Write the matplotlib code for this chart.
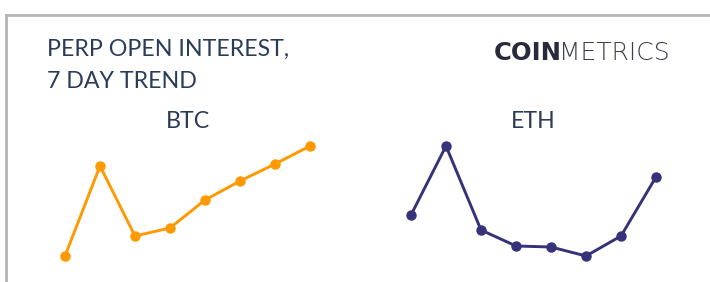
import matplotlib.pyplot as plt
from matplotlib.lines import Line2D

# 7 day perp open interest (arbitrary units)
days = [0, 1, 2, 3, 4, 5, 6, 7]
btc_oi = [9.44, 10.34, 9.64, 9.72, 10.00, 10.19, 10.36, 10.54]
eth_oi = [4.85, 5.54, 4.70, 4.54, 4.53, 4.44, 4.64, 5.23]

W, H = 710, 282
TEXT_COLOR = "#2b3b5a"
BTC_COLOR = "#ff9900"
ETH_COLOR = "#35327a"

fig = plt.figure(figsize=(W / 100, H / 100), dpi=100)
fig.patch.set_facecolor("white")


def px(x, y):
    """pixel coords (top-left origin) -> figure fraction"""
    return x / W, 1 - y / H


# frame lines (top and left only)
x0, y0 = px(6, 14.5)
fig.add_artist(Line2D([x0, 1], [y0, y0], transform=fig.transFigure,
                      color="#b5b5b5", lw=2))
fig.add_artist(Line2D([x0, x0], [y0, 0], transform=fig.transFigure,
                      color="#b5b5b5", lw=2))

# title
fig.text(*px(47, 56), "PERP OPEN INTEREST,", family="Lato", fontsize=16.7,
         color=TEXT_COLOR, va="baseline", ha="left")
fig.text(*px(47, 88), "7 DAY TREND", family="Lato", fontsize=16.7,
         color=TEXT_COLOR, va="baseline", ha="left")

# logo
fig.text(*px(562, 60), "COIN", family="DejaVu Sans", fontweight="bold",
         fontsize=17.5, color="#262a3b", va="baseline", ha="right")
fig.text(*px(559, 60), "METRICS", family="DejaVu Sans", fontweight=200,
         fontsize=18, color="#3a3d4a", va="baseline", ha="left")


def sparkline(left_px, values, color, label):
    left, bottom = px(left_px, 256)
    ax = fig.add_axes([left, bottom, 245 / W, 110 / H])
    ax.plot(days, values, color=color, lw=2.1, marker="o", markersize=6.5,
            clip_on=False)
    ax.set_xlim(days[0], days[-1])
    ax.set_ylim(min(values), max(values))
    ax.axis("off")
    cx = left_px + 245 / 2
    fig.text(*px(cx, 128), label, family="Lato", fontsize=16.7,
             color=TEXT_COLOR, va="baseline", ha="center")


sparkline(65, btc_oi, BTC_COLOR, "BTC")
sparkline(411, eth_oi, ETH_COLOR, "ETH")

fig.savefig("out.png", dpi=100)
